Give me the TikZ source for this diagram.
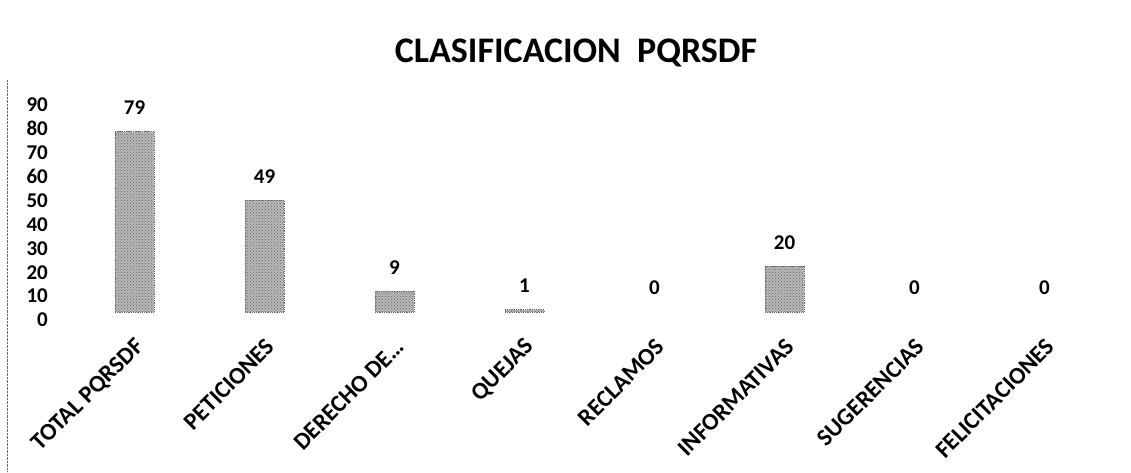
\documentclass[tikz,border=0pt]{standalone}
\usepackage{fontspec}
\setmainfont{Carlito}
\usetikzlibrary{patterns}
\begin{document}
\begin{tikzpicture}[x=1pt,y=1pt,
  bar/.style={anchor=south, minimum width=39pt, inner sep=0pt, outer sep=0pt,
    preaction={fill=black!28}, pattern=crosshatch dots, pattern color=black!60,
    draw=black!60, densely dotted, line width=0.8pt},
  val/.style={font=\bfseries\fontsize{21}{21}\selectfont, inner sep=0pt},
  tick/.style={font=\bfseries\fontsize{21}{21}\selectfont, inner sep=0pt, anchor=east},
  cat/.style={font=\bfseries\fontsize{24}{24}\selectfont, inner sep=0pt, anchor=east, rotate=45},
  title/.style={font=\bfseries\fontsize{36}{36}\selectfont, inner sep=0pt}]
\useasboundingbox (0,0) rectangle (1131,-472);
\fill[white] (0,0) rectangle (1131,-472);
\draw[densely dotted, black!60] (7,-80) -- (7,-472);
\node[title] (title) at (576,-53) {CLASIFICACION\ \ PQRSDF};
\foreach \k in {0,...,9} {
  \pgfmathsetmacro\yy{-320+\k*23.9}
  \pgfmathtruncatemacro\lab{\k*10}
  \node[tick] (y\k) at (48,\yy) {\lab};
}
\foreach \v/\t [count=\i] in {79/TOTAL PQRSDF, 49/PETICIONES, 9/DERECHO DE…, 1/QUEJAS, 0/RECLAMOS, 20/INFORMATIVAS, 0/SUGERENCIAS, 0/FELICITACIONES} {
  \pgfmathsetmacro\cx{4.5+130*\i}
  \pgfmathsetmacro\h{\v*2.28}
  \pgfmathsetmacro\vy{-312+\h+24}
  \ifnum\v>0
    \node[bar, minimum height=\h pt] (bar\i) at (\cx,-312) {};
  \fi
  \node[val] (val\i) at (\cx,\vy) {\v};
  \node[cat] (cat\i) at (\cx+6,-343) {\t};
}
\end{tikzpicture}
\end{document}
